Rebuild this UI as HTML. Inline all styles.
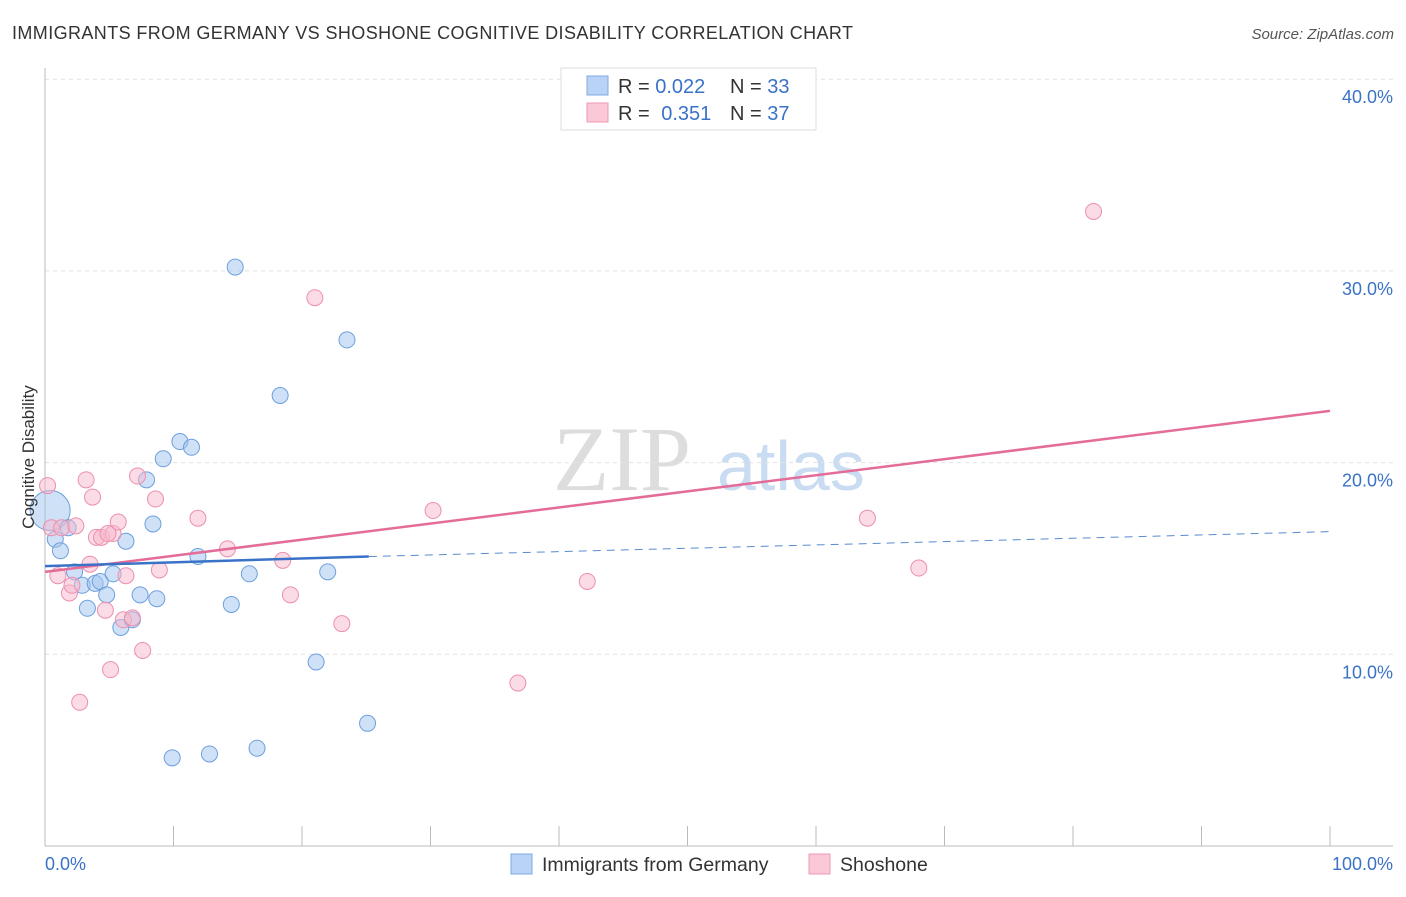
<!DOCTYPE html>
<html><head><meta charset="utf-8"><style>
body{margin:0;background:#fff;font-family:"Liberation Sans",sans-serif;}
</style></head><body>
<svg id="chart" width="1406" height="892" xmlns="http://www.w3.org/2000/svg" font-family="Liberation Sans, sans-serif">
<text x="12" y="39" font-size="18" fill="#333" textLength="841" lengthAdjust="spacing">IMMIGRANTS FROM GERMANY VS SHOSHONE COGNITIVE DISABILITY CORRELATION CHART</text>
<text x="1394" y="39" font-size="15" fill="#555" font-style="italic" text-anchor="end">Source: ZipAtlas.com</text>
<text x="553" y="490" font-size="92" fill="#ddd" font-family="Liberation Serif, serif">ZIP</text>
<text x="717" y="490" font-size="70" fill="#c9dcf2">atlas</text>
<g id="grid"></g><g id="marks"></g>
<text transform="translate(34,457) rotate(-90)" font-size="17" fill="#333" text-anchor="middle">Cognitive Disability</text>
<text x="45" y="870" font-size="18" fill="#3a72c8">0.0%</text>
<text x="1393" y="870" font-size="18" fill="#3a72c8" text-anchor="end">100.0%</text>
<g>
<rect x="561" y="68" width="255" height="62" fill="#fff" stroke="#ddd"/>
<rect x="587" y="76" width="21" height="19" fill="#b8d3f5" stroke="#7ea9e0"/>
<rect x="587" y="103" width="21" height="19" fill="#fac8d6" stroke="#ee9ab3"/>
<text x="618" y="93" font-size="20" fill="#333">R = <tspan fill="#3a72c8">0.022</tspan><tspan x="730">N = </tspan><tspan fill="#3a72c8">33</tspan></text>
<text x="618" y="120" font-size="20" fill="#333">R = <tspan fill="#3a72c8" dx="6">0.351</tspan><tspan x="730">N = </tspan><tspan fill="#3a72c8">37</tspan></text>
</g>
<g>
<rect x="511" y="854" width="21" height="20" fill="#b8d3f5" stroke="#7ea9e0"/>
<text x="542" y="871" font-size="19.5" fill="#333">Immigrants from Germany</text>
<rect x="809" y="854" width="21" height="20" fill="#fac8d6" stroke="#ee9ab3"/>
<text x="840" y="871" font-size="19.5" fill="#333">Shoshone</text>
</g>
</svg>
<script>
const yTicks=[10,20,30,40];
const yTickLabels=["10.0%","20.0%","30.0%","40.0%"];
const xTicks=[0,10,20,30,40,50,60,70,80,90,100];
const blueX=[0.4,0.8,1.2,1.8,2.3,2.9,3.3,3.9,4.3,4.8,5.3,5.9,6.3,6.8,7.4,7.9,8.4,8.7,9.2,10.5,11.4,11.9,14.5,14.8,15.9,16.5,18.3,21.1,22.0,23.5,25.1,9.9,12.8];
const blueY=[17.5,16.0,15.4,16.6,14.3,13.6,12.4,13.7,13.8,13.1,14.2,11.4,15.9,11.8,13.1,19.1,16.8,12.9,20.2,21.1,20.8,15.1,12.6,30.2,14.2,5.1,23.5,9.6,14.3,26.4,6.4,4.6,4.8];
const pinkX=[0.2,0.5,1.0,1.3,1.9,2.1,2.4,2.7,3.2,3.5,3.7,4.0,4.4,4.7,5.1,5.3,5.7,6.1,6.3,6.8,7.2,7.6,8.6,8.9,11.9,14.2,18.5,19.1,21.0,23.1,30.2,36.8,42.2,64.0,68.0,81.6,4.9];
const pinkY=[18.8,16.6,14.1,16.6,13.2,13.6,16.7,7.5,19.1,14.7,18.2,16.1,16.1,12.3,9.2,16.3,16.9,11.8,14.1,11.9,19.3,10.2,18.1,14.4,17.1,15.5,14.9,13.1,28.6,11.6,17.5,8.5,13.8,17.1,14.5,33.1,16.3];
const blueTrend=[14.6,15.1,16.4]; // at x=0, 25.2, 100
const pinkTrend=[14.3,22.7]; // at x=0,100
const X=v=>45+v*12.85, Y=v=>846-v*19.17;
const NS="http://www.w3.org/2000/svg";
const grid=document.getElementById('grid'), marks=document.getElementById('marks');
function mk(tag,attrs,parent){const e=document.createElementNS(NS,tag);for(const k in attrs)e.setAttribute(k,attrs[k]);parent.appendChild(e);return e;}
yTicks.forEach((t,i)=>{
 const l=mk('line',{x1:45,x2:1393,y1:Y(t),y2:Y(t),stroke:'#e2e2e2','stroke-dasharray':'4,4'},grid);
 
 
 const tx=mk('text',{x:1393,y:Y(t)+24,'font-size':18,fill:'#3a72c8','text-anchor':'end'},grid);
 tx.textContent=yTickLabels[i];
 
 
});
const ax=mk('line',{x1:45,x2:1393,y1:846,y2:846,stroke:'#bbb'},grid);


const ay=mk('line',{x1:45,x2:45,y1:68,y2:846,stroke:'#bbb'},grid);


xTicks.forEach(t=>{
 const l=mk('line',{x1:X(t),x2:X(t),y1:826,y2:846,stroke:'#bbb'},grid);
 
 
});
blueX.forEach((x,i)=>{
 const c=mk('circle',{cx:X(x),cy:Y(blueY[i]),r:i===0?20:8,fill:'rgba(160,196,240,0.5)',stroke:'#6e9fdc','stroke-width':1},marks);
 
 
});
pinkX.forEach((x,i)=>{
 const c=mk('circle',{cx:X(x),cy:Y(pinkY[i]),r:8,fill:'rgba(248,184,204,0.5)',stroke:'#ec8fae','stroke-width':1},marks);
 
 
});
const pt=mk('line',{x1:X(0),y1:Y(pinkTrend[0]),x2:X(100),y2:Y(pinkTrend[1]),stroke:'#e46c98','stroke-width':2.5},marks);


const bt=mk('line',{x1:X(0),y1:Y(blueTrend[0]),x2:X(25.2),y2:Y(blueTrend[1]),stroke:'#3a72c8','stroke-width':2.5},marks);


const bd=mk('line',{x1:X(25.2),y1:Y(blueTrend[1]),x2:X(100),y2:Y(blueTrend[2]),stroke:'#5a8ad0','stroke-width':1,'stroke-dasharray':'8,6'},marks);


</script>
</body></html>
